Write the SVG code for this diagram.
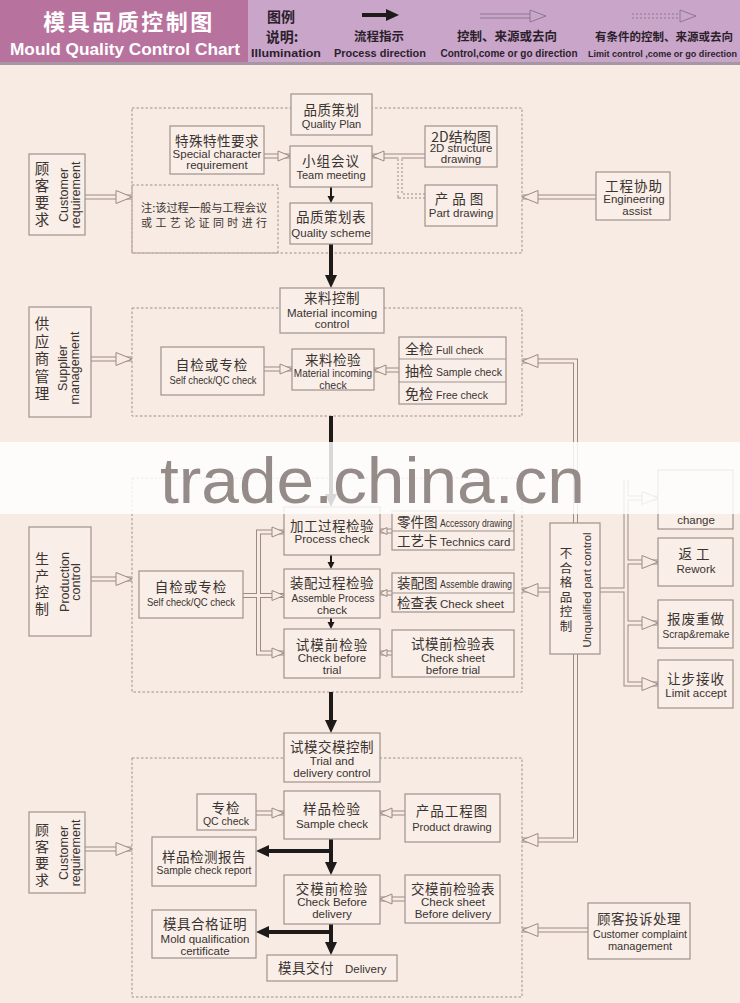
<svg xmlns="http://www.w3.org/2000/svg" width="740" height="1003" viewBox="0 0 740 1003">
<style>
.box{fill:#f9eee8;stroke:#a0918b;stroke-width:1.2}
.dash{fill:none;stroke:#a0918b;stroke-width:1;stroke-dasharray:2.5 2}
.o{fill:none;stroke:#9b8b85;stroke-width:5}
.od{fill:none;stroke:#9b8b85;stroke-width:5;stroke-dasharray:2 2}
.i{fill:none;stroke:#f7ebe4;stroke-width:3}
.hd{fill:#f7ebe4;stroke:#9b8b85;stroke-width:1}
.bk{stroke:#1e1a1a;stroke-width:4;fill:none}
.bt{stroke:#1e1a1a;stroke-width:2;fill:none}
.bh{fill:#1e1a1a}
text{fill:#3a3431}
.z{font-family:"Noto Sans CJK SC","Noto Sans",sans-serif}
.e{font-family:"Liberation Sans",Arial,sans-serif}
.m{text-anchor:middle}
.w{fill:#ffffff}
.hk{fill:#2b1f2c}
</style>
<defs>
<polygon id="hL" points="0,0 16,-6.5 16,6.5"/>
<polygon id="hR" points="0,0 -16,-6.5 -16,6.5"/>
<polygon id="mL" points="0,0 12,-5 12,5"/>
<polygon id="mR" points="0,0 -12,-5 -12,5"/>
<polygon id="sL" points="0,0 7,-3.5 7,3.5"/>
<polygon id="bD" points="0,0 -6,-13 6,-13"/>
<polygon id="bL" points="0,0 13,-6 13,6"/>
<polygon id="tD" points="0,0 -3.5,-7 3.5,-7"/>
</defs>
<rect x="0" y="0" width="740" height="1003" fill="#f7ebe4"/>

<g id="header">
<rect x="0" y="0" width="248" height="63" fill="#b8729e"/>
<rect x="248" y="0" width="492" height="63" fill="#c9a5c9"/>
<rect x="0" y="62" width="740" height="3" fill="#a797a5"/>
<text class="z m w" x="129" y="30" font-size="22" font-weight="bold" letter-spacing="2.5">模具品质控制图</text>
<text class="e w" x="10" y="55" font-size="17" font-weight="bold" textLength="230" lengthAdjust="spacingAndGlyphs">Mould Quality Control Chart</text>
<text class="z m hk" x="281" y="22" font-size="14" font-weight="bold">图例</text>
<text class="z m hk" x="282" y="42" font-size="14" font-weight="bold">说明:</text>
<text class="e m hk" x="286" y="57" font-size="11" font-weight="bold" textLength="70" lengthAdjust="spacingAndGlyphs">Illumination</text>
<line x1="362" y1="15" x2="387" y2="15" stroke="#1e1a1a" stroke-width="4"/>
<polygon points="399,15 386,9 386,21" fill="#1e1a1a"/>
<text class="z m hk" x="379" y="41" font-size="12.5" font-weight="bold">流程指示</text>
<text class="e m hk" x="380" y="57" font-size="11" font-weight="bold" textLength="92" lengthAdjust="spacingAndGlyphs">Process direction</text>
<line x1="480" y1="16" x2="533" y2="16" stroke="#8c7890" stroke-width="5"/>
<line x1="480" y1="16" x2="533" y2="16" stroke="#c9a5c9" stroke-width="3"/>
<polygon points="546,16 530,10 530,22" fill="#c9a5c9" stroke="#8c7890" stroke-width="1"/>
<text class="z m hk" x="507" y="41" font-size="12.5" font-weight="bold">控制、来源或去向</text>
<text class="e m hk" x="509" y="57" font-size="11" font-weight="bold" textLength="137" lengthAdjust="spacingAndGlyphs">Control,come or go direction</text>
<line x1="632" y1="16" x2="683" y2="16" stroke="#8c7890" stroke-width="5" stroke-dasharray="2 2"/>
<line x1="632" y1="16" x2="683" y2="16" stroke="#c9a5c9" stroke-width="3"/>
<polygon points="696,16 680,10 680,22" fill="#c9a5c9" stroke="#8c7890" stroke-width="1"/>
<text class="z m hk" x="664" y="41" font-size="11.5" font-weight="bold">有条件的控制、来源或去向</text>
<text class="e hk" x="588" y="57" font-size="9" font-weight="bold" textLength="149" lengthAdjust="spacingAndGlyphs">Limit control ,come or go direction</text>
</g>

<g id="containers">
<rect class="dash" x="132" y="108" width="390" height="145"/>
<rect class="dash" x="132" y="185" width="146" height="68"/>
<rect class="dash" x="132" y="308" width="390" height="108"/>
<rect class="dash" x="132" y="478" width="390" height="214"/>
<rect class="dash" x="132" y="758" width="390" height="239"/>
</g>

<g id="connectors">
<g class="od"><path d="M425,196 H400 V156"/></g>
<g class="o">
<path d="M85,197 H132"/><path d="M264,156 H290"/><path d="M425,156 H372"/><path d="M596,197 H522"/>
<path d="M91,359 H132"/><path d="M264,369 H292"/><path d="M399,370 H374"/>
<path d="M522,361 H575.5 V840 H522"/>
<path d="M91,579 H132"/><path d="M243,595.5 H284"/><path d="M284,532 H258.5 V653 H284"/>
<path d="M392,531 H380"/><path d="M392,593 H380"/><path d="M392,653 H380"/>
<path d="M550,590 H522"/><path d="M600,590 H626"/><path d="M626,480 V684 H658"/>
<path d="M626,498 H658"/><path d="M626,562 H658"/><path d="M626,623 H658"/>
<path d="M85,849 H132"/><path d="M256,813 H284"/><path d="M405,813 H380"/><path d="M405,899 H380"/><path d="M588,930 H522"/>
</g>
<g class="i">
<path d="M425,196 H400 V156"/>
<path d="M85,197 H132"/><path d="M264,156 H290"/><path d="M425,156 H372"/><path d="M596,197 H522"/>
<path d="M91,359 H132"/><path d="M264,369 H292"/><path d="M399,370 H374"/>
<path d="M522,361 H575.5 V840 H522"/>
<path d="M91,579 H132"/><path d="M243,595.5 H284"/><path d="M284,532 H258.5 V653 H284"/>
<path d="M392,531 H380"/><path d="M392,593 H380"/><path d="M392,653 H380"/>
<path d="M550,590 H522"/><path d="M600,590 H626"/><path d="M626,480 V684 H658"/>
<path d="M626,498 H658"/><path d="M626,562 H658"/><path d="M626,623 H658"/>
<path d="M85,849 H132"/><path d="M256,813 H284"/><path d="M405,813 H380"/><path d="M405,899 H380"/><path d="M588,930 H522"/>
</g>
<g class="hd">
<use href="#hR" x="132" y="197"/><use href="#mR" x="290" y="156"/><use href="#mL" x="372" y="156"/><use href="#hL" x="522" y="197"/>
<use href="#hR" x="132" y="359"/><use href="#mR" x="292" y="369"/><use href="#mL" x="374" y="370"/><use href="#hL" x="522" y="361"/>
<use href="#hR" x="132" y="579"/><use href="#mR" x="284" y="532"/><use href="#mR" x="284" y="595.5"/><use href="#mR" x="284" y="653"/>
<use href="#sL" x="380" y="531"/><use href="#sL" x="380" y="593"/><use href="#sL" x="380" y="653"/>
<use href="#hL" x="522" y="590"/>
<use href="#hR" x="658" y="498"/><use href="#hR" x="658" y="562"/><use href="#hR" x="658" y="623"/><use href="#hR" x="658" y="684"/>
<use href="#hR" x="132" y="849"/><use href="#mR" x="284" y="813"/><use href="#mL" x="380" y="813"/><use href="#mL" x="380" y="899"/>
<use href="#hL" x="522" y="930"/><use href="#hL" x="522" y="840"/>
</g>
<g id="flow">
<line class="bt" x1="331" y1="187" x2="331" y2="197"/><use class="bh" href="#tD" x="331" y="203"/>
<line class="bk" x1="331" y1="244" x2="331" y2="277"/><use class="bh" href="#bD" x="331" y="288"/>
<line class="bk" x1="331" y1="416" x2="331" y2="496"/><use class="bh" href="#bD" x="331" y="507"/>
<line class="bt" x1="331" y1="555" x2="331" y2="563"/><use class="bh" href="#tD" x="331" y="569"/>
<line class="bt" x1="331" y1="618" x2="331" y2="623"/><use class="bh" href="#tD" x="331" y="629"/>
<line class="bk" x1="331" y1="692" x2="331" y2="722"/><use class="bh" href="#bD" x="331" y="733"/>
<line class="bk" x1="331" y1="839" x2="331" y2="864"/><use class="bh" href="#bD" x="331" y="875"/>
<line class="bk" x1="333" y1="851" x2="267" y2="851"/><use class="bh" href="#bL" x="256" y="851"/>
<line class="bk" x1="331" y1="924" x2="331" y2="944"/><use class="bh" href="#bD" x="331" y="955"/>
<line class="bk" x1="333" y1="932" x2="267" y2="932"/><use class="bh" href="#bL" x="256" y="932"/>
</g>
</g>

<g id="n-cr1"><rect class="box" x="29" y="154" width="56" height="81"/>
<text class="z m" font-size="14.5"><tspan x="42" y="174">顾</tspan><tspan x="42" y="191">客</tspan><tspan x="42" y="208">要</tspan><tspan x="42" y="225">求</tspan></text>
<text class="e m" transform="translate(68,195) rotate(-90)" font-size="12.5">Customer</text>
<text class="e m" transform="translate(80,195) rotate(-90)" font-size="12.5">requirement</text></g>
<g id="n-qp"><rect class="box" x="291" y="94" width="81" height="41"/>
<text class="z m" x="331.5" y="115" font-size="13.5" letter-spacing="0.5">品质策划</text>
<text class="e m" x="331.5" y="128" font-size="11">Quality Plan</text></g>
<g id="n-sc"><rect class="box" x="170" y="126" width="94" height="48"/>
<text class="z m" x="217" y="146" font-size="13.5" letter-spacing="0.5">特殊特性要求</text>
<text class="e m" x="217" y="158" font-size="11.5">Special character</text>
<text class="e m" x="217" y="169" font-size="11.5">requirement</text></g>
<g id="n-tm"><rect class="box" x="290" y="146" width="82" height="41"/>
<text class="z m" x="331" y="166" font-size="13.5" letter-spacing="1">小组会议</text>
<text class="e m" x="331" y="179" font-size="11">Team meeting</text></g>
<g id="n-qs"><rect class="box" x="290" y="203" width="82" height="41"/>
<text class="z m" x="331" y="222" font-size="13.5" letter-spacing="0.5">品质策划表</text>
<text class="e m" x="331" y="237" font-size="11.5">Quality scheme</text></g>
<g id="n-note">
<text class="z" x="141" y="212" font-size="11" textLength="126" lengthAdjust="spacingAndGlyphs">注:该过程一般与工程会议</text>
<text class="z" x="141" y="227" font-size="11" textLength="126" lengthAdjust="spacing">或 工 艺 论 证 同 时 进 行</text></g>
<g id="n-2d"><rect class="box" x="425" y="126" width="72" height="41"/>
<text class="z m" x="461" y="142" font-size="14">2D结构图</text>
<text class="e m" x="461" y="152" font-size="11.5">2D structure</text>
<text class="e m" x="461" y="163" font-size="11.5">drawing</text></g>
<g id="n-pd"><rect class="box" x="425" y="185" width="72" height="41"/>
<text class="z m" x="461" y="204" font-size="13.5" letter-spacing="4">产品图</text>
<text class="e m" x="461" y="217" font-size="11.5">Part drawing</text></g>
<g id="n-ea"><rect class="box" x="596" y="172" width="74" height="48"/>
<text class="z m" x="634" y="191" font-size="13.5" letter-spacing="1">工程协助</text>
<text class="e m" x="634" y="203" font-size="11.5">Engineering</text>
<text class="e m" x="637" y="215" font-size="11.5">assist</text></g>

<g id="n-mi"><rect class="box" x="280" y="288" width="104" height="45"/>
<text class="z m" x="332" y="303" font-size="13.5" letter-spacing="0.5">来料控制</text>
<text class="e m" x="332" y="317" font-size="11.5">Material incoming</text>
<text class="e m" x="332" y="328" font-size="11.5">control</text></g>
<g id="n-sm"><rect class="box" x="29" y="307" width="62" height="110"/>
<text class="z m" font-size="14.5"><tspan x="42" y="329">供</tspan><tspan x="42" y="346.5">应</tspan><tspan x="42" y="364">商</tspan><tspan x="42" y="381.5">管</tspan><tspan x="42" y="399">理</tspan></text>
<text class="e m" transform="translate(67,368) rotate(-90)" font-size="12.5">Supplier</text>
<text class="e m" transform="translate(79,368) rotate(-90)" font-size="12.5">management</text></g>
<g id="n-sc2"><rect class="box" x="161" y="347" width="103" height="48"/>
<text class="z m" x="212" y="370" font-size="13.5" letter-spacing="1">自检或专检</text>
<text class="e m" x="213" y="384" font-size="11" textLength="87" lengthAdjust="spacingAndGlyphs">Self check/QC check</text></g>
<g id="n-mic"><rect class="box" x="292" y="349" width="82" height="41"/>
<text class="z m" x="333" y="365" font-size="13.5" letter-spacing="0.5">来料检验</text>
<text class="e m" x="333" y="377" font-size="10">Material incoming</text>
<text class="e m" x="333" y="389" font-size="10.5">check</text></g>
<g id="n-chk"><rect class="box" x="399" y="337" width="107" height="67"/>
<line x1="399" y1="359" x2="506" y2="359" stroke="#a0918b" stroke-width="1.2"/>
<line x1="399" y1="382" x2="506" y2="382" stroke="#a0918b" stroke-width="1.2"/>
<text class="z" x="405" y="354" font-size="14">全检</text><text class="e" x="436" y="354" font-size="10.5">Full check</text>
<text class="z" x="405" y="376" font-size="14">抽检</text><text class="e" x="436" y="376" font-size="10.5">Sample check</text>
<text class="z" x="405" y="399" font-size="14">免检</text><text class="e" x="436" y="399" font-size="10.5">Free check</text></g>

<g id="n-pc"><rect class="box" x="29" y="527" width="62" height="109"/>
<text class="z m" font-size="14"><tspan x="42" y="564">生</tspan><tspan x="42" y="580.5">产</tspan><tspan x="42" y="597">控</tspan><tspan x="42" y="613.5">制</tspan></text>
<text class="e m" transform="translate(69,582) rotate(-90)" font-size="12.5">Production</text>
<text class="e m" transform="translate(80,582) rotate(-90)" font-size="12.5">control</text></g>
<g id="n-sc3"><rect class="box" x="139" y="571" width="104" height="47"/>
<text class="z m" x="191" y="592" font-size="13.5" letter-spacing="1">自检或专检</text>
<text class="e m" x="191" y="606" font-size="11" textLength="88" lengthAdjust="spacingAndGlyphs">Self check/QC check</text></g>
<g id="n-prc"><rect class="box" x="284" y="507" width="96" height="48"/>
<text class="z m" x="332" y="531" font-size="13.5" letter-spacing="0.5">加工过程检验</text>
<text class="e m" x="332" y="543" font-size="11.5">Process check</text></g>
<g id="n-asc"><rect class="box" x="284" y="569" width="96" height="49"/>
<text class="z m" x="332" y="588" font-size="13.5" letter-spacing="0.5">装配过程检验</text>
<text class="e m" x="333" y="602" font-size="11" textLength="83" lengthAdjust="spacingAndGlyphs">Assemble Process</text>
<text class="e m" x="332" y="614" font-size="11.5">check</text></g>
<g id="n-trc"><rect class="box" x="284" y="629" width="96" height="49"/>
<text class="z m" x="332" y="650" font-size="13.5" letter-spacing="1">试模前检验</text>
<text class="e m" x="332" y="662" font-size="11.5">Check before</text>
<text class="e m" x="332" y="674" font-size="11.5">trial</text></g>
<g id="n-ta"><rect class="box" x="392" y="511" width="122" height="39"/>
<line x1="392" y1="531" x2="514" y2="531" stroke="#a0918b" stroke-width="1.2"/>
<text class="z" x="397" y="527" font-size="13.5">零件图</text><text class="e" x="440" y="527" font-size="10.5" textLength="72" lengthAdjust="spacingAndGlyphs">Accessory drawing</text>
<text class="z" x="397" y="546" font-size="13.5">工艺卡</text><text class="e" x="440" y="546" font-size="11.5">Technics card</text></g>
<g id="n-tb"><rect class="box" x="392" y="573" width="122" height="39"/>
<line x1="392" y1="593" x2="514" y2="593" stroke="#a0918b" stroke-width="1.2"/>
<text class="z" x="397" y="588" font-size="13.5">装配图</text><text class="e" x="440" y="588" font-size="10.5" textLength="72" lengthAdjust="spacingAndGlyphs">Assemble drawing</text>
<text class="z" x="397" y="608" font-size="13.5">检查表</text><text class="e" x="440" y="608" font-size="11.5">Check sheet</text></g>
<g id="n-tc"><rect class="box" x="392" y="630" width="122" height="47"/>
<text class="z m" x="453" y="649" font-size="13.5" letter-spacing="0.5">试模前检验表</text>
<text class="e m" x="453" y="662" font-size="11.5">Check sheet</text>
<text class="e m" x="453" y="674" font-size="11.5">before trial</text></g>
<g id="n-nc"><rect class="box" x="550" y="523" width="50" height="131"/>
<text class="z m" font-size="12.5"><tspan x="566" y="558">不</tspan><tspan x="566" y="572.5">合</tspan><tspan x="566" y="587">格</tspan><tspan x="566" y="601.5">品</tspan><tspan x="566" y="616">控</tspan><tspan x="566" y="630.5">制</tspan></text>
<text class="e m" transform="translate(591,590) rotate(-90)" font-size="11.5" textLength="115" lengthAdjust="spacingAndGlyphs">Unqualified part control</text></g>
<g id="n-chg"><rect class="box" x="658" y="470" width="75" height="59"/>
<text class="e m" x="696" y="524" font-size="11.5">change</text></g>
<g id="n-rw"><rect class="box" x="658" y="538" width="75" height="48"/>
<text class="z m" x="696" y="559" font-size="13.5" letter-spacing="4">返工</text>
<text class="e m" x="696" y="573" font-size="11.5">Rework</text></g>
<g id="n-sr2"><rect class="box" x="658" y="600" width="75" height="48"/>
<text class="z m" x="696" y="624" font-size="13.5" letter-spacing="1">报废重做</text>
<text class="e m" x="696" y="638" font-size="10.5" textLength="67" lengthAdjust="spacingAndGlyphs">Scrap&amp;remake</text></g>
<g id="n-la"><rect class="box" x="658" y="660" width="75" height="48"/>
<text class="z m" x="696" y="684" font-size="13.5" letter-spacing="1">让步接收</text>
<text class="e m" x="696" y="697" font-size="11.5">Limit accept</text></g>

<g id="n-td"><rect class="box" x="284" y="733" width="96" height="49"/>
<text class="z m" x="332" y="752" font-size="13.5" letter-spacing="0.5">试模交模控制</text>
<text class="e m" x="332" y="765" font-size="11.5">Trial and</text>
<text class="e m" x="332" y="777" font-size="11.5">delivery control</text></g>
<g id="n-cr2"><rect class="box" x="29" y="812" width="56" height="81"/>
<text class="z m" font-size="14"><tspan x="42" y="835">顾</tspan><tspan x="42" y="851.5">客</tspan><tspan x="42" y="868">要</tspan><tspan x="42" y="884.5">求</tspan></text>
<text class="e m" transform="translate(68,853) rotate(-90)" font-size="12.5">Customer</text>
<text class="e m" transform="translate(80,853) rotate(-90)" font-size="12.5">requirement</text></g>
<g id="n-qc"><rect class="box" x="197" y="794" width="59" height="36"/>
<text class="z m" x="226" y="813" font-size="13.5" letter-spacing="1">专检</text>
<text class="e m" x="226" y="825" font-size="10.5">QC check</text></g>
<g id="n-sac"><rect class="box" x="284" y="791" width="96" height="48"/>
<text class="z m" x="332" y="814" font-size="13.5" letter-spacing="1">样品检验</text>
<text class="e m" x="332" y="828" font-size="11.5">Sample check</text></g>
<g id="n-prd"><rect class="box" x="405" y="794" width="95" height="48"/>
<text class="z m" x="452" y="816" font-size="13.5" letter-spacing="1">产品工程图</text>
<text class="e m" x="452" y="831" font-size="11">Product drawing</text></g>
<g id="n-rep"><rect class="box" x="152" y="837" width="104" height="49"/>
<text class="z m" x="204" y="862" font-size="13.5" letter-spacing="0.5">样品检测报告</text>
<text class="e m" x="204" y="874" font-size="11" textLength="95" lengthAdjust="spacingAndGlyphs">Sample check report</text></g>
<g id="n-cbd"><rect class="box" x="284" y="875" width="96" height="49"/>
<text class="z m" x="332" y="894" font-size="13.5" letter-spacing="1">交模前检验</text>
<text class="e m" x="332" y="906" font-size="11.5">Check Before</text>
<text class="e m" x="332" y="918" font-size="11.5">delivery</text></g>
<g id="n-csbd"><rect class="box" x="405" y="875" width="95" height="48"/>
<text class="z m" x="453" y="894" font-size="13.5" letter-spacing="0.5">交模前检验表</text>
<text class="e m" x="453" y="906" font-size="11.5">Check sheet</text>
<text class="e m" x="453" y="918" font-size="11.5">Before delivery</text></g>
<g id="n-mq"><rect class="box" x="152" y="910" width="104" height="48"/>
<text class="z m" x="205" y="929" font-size="13.5" letter-spacing="0.5">模具合格证明</text>
<text class="e m" x="205" y="943" font-size="11.5">Mold qualification</text>
<text class="e m" x="205" y="955" font-size="11.5">certificate</text></g>
<g id="n-dl"><rect class="box" x="267" y="955" width="130" height="26"/>
<text class="z" x="278" y="973" font-size="13.5" letter-spacing="0.5">模具交付</text>
<text class="e" x="345" y="973" font-size="11.5">Delivery</text></g>
<g id="n-cc"><rect class="box" x="588" y="903" width="102" height="56"/>
<text class="z m" x="639" y="924" font-size="13.5" letter-spacing="0.5">顾客投诉处理</text>
<text class="e m" x="640" y="938" font-size="11" textLength="94" lengthAdjust="spacingAndGlyphs">Customer complaint</text>
<text class="e m" x="640" y="950" font-size="11">management</text></g>

<g id="watermark">
<rect x="0" y="442" width="740" height="72" fill="#ffffff" opacity="0.83"/>
<text class="e" x="160" y="503" font-size="65" style="fill:#958b88" textLength="425" lengthAdjust="spacingAndGlyphs">trade.china.cn</text>
</g>
</svg>
